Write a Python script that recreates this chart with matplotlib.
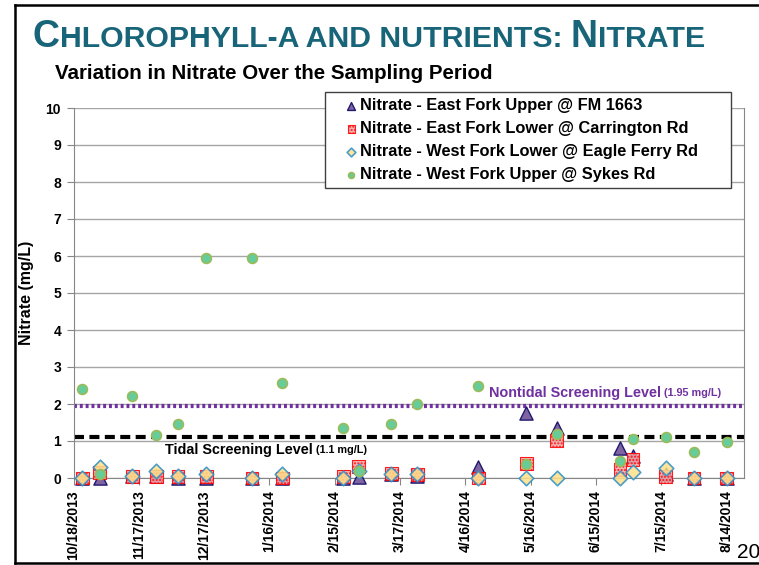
import matplotlib
matplotlib.use("Agg")
import matplotlib.pyplot as plt
from matplotlib.lines import Line2D
from matplotlib.patches import Rectangle
import pandas as pd

plt.rcParams['font.family'] = ['Liberation Sans', 'DejaVu Sans']

# datos
sample_dates = ['2013-10-22', '2013-10-30', '2013-11-14', '2013-11-25', '2013-12-05',
                '2013-12-18', '2014-01-08', '2014-01-22', '2014-02-19', '2014-02-26',
                '2014-03-13', '2014-03-25', '2014-04-22', '2014-05-14', '2014-05-28',
                '2014-06-26', '2014-07-02', '2014-07-17', '2014-07-30', '2014-08-14']
east_upper = [0.0, 0.0, 0.05, 0.05, 0.0, 0.0, 0.0, 0.0, 0.0, 0.03,
              0.1, 0.05, 0.3, 1.75, 1.35, 0.8, 0.6, 0.12, 0.0, 0.0]
east_lower = [0.0, 0.15, 0.05, 0.05, 0.05, 0.05, 0.0, 0.0, 0.05, 0.32,
              0.12, 0.1, 0.0, 0.4, 1.02, 0.22, 0.5, 0.03, 0.0, 0.0]
west_lower = [0.0, 0.3, 0.05, 0.2, 0.05, 0.12, 0.0, 0.1, 0.0, 0.2,
              0.12, 0.1, 0.0, 0.0, 0.0, 0.0, 0.15, 0.27, 0.0, 0.0]
west_upper = [2.4, 0.12, 2.22, 1.15, 1.45, 5.95, 5.95, 2.57, 1.36, 0.18,
              1.47, 2.0, 2.5, 0.37, 1.2, 0.47, 1.05, 1.1, 0.7, 0.98]

series_names = ['Nitrate - East Fork Upper @ FM 1663',
                'Nitrate - East Fork Lower @ Carrington Rd',
                'Nitrate - West Fork Lower @ Eagle Ferry Rd',
                'Nitrate - West Fork Upper @ Sykes Rd']

tick_dates = ['2013-10-18', '2013-11-17', '2013-12-17', '2014-01-16', '2014-02-15',
              '2014-03-17', '2014-04-16', '2014-05-16', '2014-06-15', '2014-07-15',
              '2014-08-14']
tick_labels = ['10/18/2013', '11/17/2013', '12/17/2013', '1/16/2014', '2/15/2014',
               '3/17/2014', '4/16/2014', '5/16/2014', '6/15/2014', '7/15/2014',
               '8/14/2014']

nontidal_level = 1.95
tidal_level = 1.1

x = pd.to_datetime(sample_dates)

fig = plt.figure(figsize=(7.59, 5.65), dpi=100)
ax = fig.add_axes([73.5 / 759, 1 - 478 / 565, (744 - 73.5) / 759, (478 - 108) / 565])

ax.set_ylim(0, 10)
ax.set_xlim(pd.Timestamp('2013-10-18'), pd.Timestamp('2014-08-22'))
ax.set_yticks(range(0, 11))
ax.set_xticks(pd.to_datetime(tick_dates))
ax.set_xticklabels(tick_labels, rotation=90, fontsize=10, fontweight='bold')
ax.set_yticklabels([str(v) for v in range(0, 11)], fontsize=10, fontweight='bold')
ax.tick_params(axis='both', direction='out', length=5, color='#868686', pad=4)
ax.grid(axis='y', color='#A6A6A6', linewidth=1)
ax.set_axisbelow(True)
for s in ['left', 'bottom', 'right']:
    ax.spines[s].set_color('#868686')
ax.spines['top'].set_visible(False)
ax.set_ylabel('Nitrate (mg/L)', fontsize=11.5, fontweight='bold', labelpad=8)

ax.axhline(nontidal_level, color='#7030A0', linewidth=3, linestyle=(0, (0.7, 0.7)), zorder=2)
ax.axhline(tidal_level, color='black', linewidth=3, linestyle=(0, (2.4, 1.3)), zorder=2)

ax.scatter(x, east_upper, marker='^', s=90, facecolor='#8064A2', edgecolor='#1F1A6E',
           linewidth=1, zorder=3, clip_on=False, label=series_names[0])
ax.scatter(x, east_lower, marker='s', s=85, facecolor='#F4A6A6', edgecolor='#FF0000',
           hatch='.....', linewidth=0.8, alpha=0.85, zorder=4, clip_on=False, label=series_names[1])
ax.scatter(x, west_lower, marker='D', s=55, facecolor='#FFE08A', edgecolor='#2E8FC8',
           linewidth=1.2, alpha=0.85, zorder=5, clip_on=False, label=series_names[2])
ax.scatter(x, west_upper, marker='o', s=50, facecolor='#66CC99', edgecolor='#9BBB59',
           linewidth=1.2, zorder=6, clip_on=False, label=series_names[3])

t1 = ax.text(pd.Timestamp('2014-04-27'), 2.19, 'Nontidal Screening Level', color='#7030A0',
             fontsize=10.4, fontweight='bold', va='baseline', ha='left')
ax.annotate(' (1.95 mg/L)', xy=(1, 0), xycoords=t1, va='bottom', ha='left',
            color='#7030A0', fontsize=7.8, fontweight='bold', xytext=(0, 1.5),
            textcoords='offset points')
t2 = ax.text(pd.Timestamp('2013-11-29'), 0.65, 'Tidal Screening Level', color='black',
             fontsize=10.4, fontweight='bold', va='baseline', ha='left')
ax.annotate(' (1.1 mg/L)', xy=(1, 0), xycoords=t2, va='bottom', ha='left',
            color='black', fontsize=7.8, fontweight='bold', xytext=(0, 1.5),
            textcoords='offset points')

# caja de la leyenda (mas ancha que el texto, como en el original)
box = Rectangle((325 / 759, 1 - 188 / 565), (731 - 325) / 759, (188 - 92) / 565,
                transform=fig.transFigure, facecolor='white', edgecolor='#404040',
                linewidth=1, clip_on=False, zorder=9)
ax.add_patch(box)
leg = ax.legend(loc='upper left', bbox_to_anchor=(340 / 759, 1 - 93 / 565),
                bbox_transform=fig.transFigure, borderaxespad=0, frameon=False,
                prop={'weight': 'bold', 'size': 11.8},
                handlelength=0.8, handletextpad=0.15, labelspacing=0.5, markerscale=0.6,
                borderpad=0.3)
leg.set_zorder(10)

# titulo con versalitas
renderer = fig.canvas.get_renderer()
title_color = '#186478'
pieces = [('C', 27), ('HLOROPHYLL-A AND NUTRIENTS: ', 21.8), ('N', 27), ('ITRATE', 21.8)]
xpos = 33 / 759
for s, size in pieces:
    t = fig.text(xpos, 1 - 47 / 565, s, fontsize=size, fontweight='bold', color=title_color,
                 family=['Liberation Sans Narrow', 'Liberation Sans'], va='baseline', ha='left')
    xpos += t.get_window_extent(renderer).width / fig.bbox.width

fig.text(55 / 759, 1 - 73 / 565, 'Variation in Nitrate Over the Sampling Period',
         fontsize=14.8, fontweight='bold', va='center', ha='left')
fig.text(737 / 759, 1 - 553 / 565, '20', fontsize=15, va='center', ha='left')

# marco de la diapositiva
fig.add_artist(Line2D([15 / 759, 15 / 759], [1 - 563 / 565, 1 - 5 / 565], color='black', linewidth=1.8))
fig.add_artist(Line2D([15 / 759, 1], [1 - 5 / 565, 1 - 5 / 565], color='black', linewidth=1.8))
fig.add_artist(Line2D([15 / 759, 1], [1 - 563 / 565, 1 - 563 / 565], color='black', linewidth=1.8))

fig.savefig('out.png', dpi=100)
